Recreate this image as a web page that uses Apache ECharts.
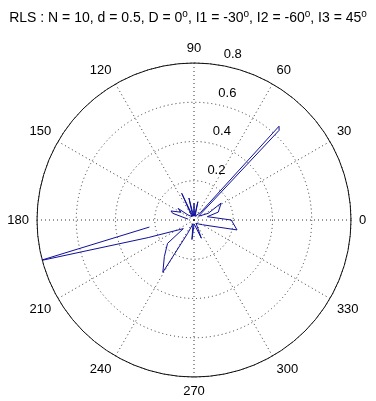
<!DOCTYPE html>
<html>
<head>
<meta charset="utf-8">
<script src="https://cdn.jsdelivr.net/npm/echarts@6/dist/echarts.min.js"></script>
<style>html,body{margin:0;padding:0;background:#fff;}#c{width:376px;height:401px;}</style>
</head>
<body>
<div id="c"></div>
<script>
// Pattern polyline: angles (deg) and radii, in drawing order ('-' = break)
var angles = [331, 347, 0, 14, 18, 32, 25, 40, 46.5, 47.8, 49, 74, 78, 83, 90, 96, 103, 108, 114.7, 121, 140, 144, 149, 158.6, 162.5, 172, '-', 189, 194.8, 201, 219, 221.5, 231, 239.2, 244.7, 255, 264, 272, 292, 302, 318, 331];
var radii  = [0.05, 0.225, 0.19, 0.07, 0.13, 0.163, 0.08, 0.03, 0.63, 0.645, 0.05, 0.02, 0.095, 0.02, 0.085, 0.02, 0.115, 0.02, 0.15, 0.02, 0.04, 0.10, 0.077, 0.126, 0.114, 0.03, '-', 0.23, 0.82, 0.25, 0.07, 0.18, 0.24, 0.31, 0.075, 0.02, 0.10, 0.02, 0.10, 0.02, 0.03, 0.05];
var angleTicks = [0, 30, 60, 90, 120, 150, 180, 210, 240, 270, 300, 330];
var radiusTicks = [0.2, 0.4, 0.6, 0.8];
var titleText = 'RLS : N = 10, d = 0.5, D = 0{s|o}, I1 = -30{s|o}, I2 = -60{s|o}, I3 = 45{s|o}';

var data = angles.map(function (a, i) { return a === '-' ? ['-', '-'] : [radii[i], a]; });
var FONT = 'Liberation Sans, Arial, sans-serif';
var CX = 194, CY = 220, R = 157;

var chart = echarts.init(document.getElementById('c'));
chart.setOption({
  animation: false,
  backgroundColor: '#fff',
  title: {
    text: titleText,
    left: 'center', top: 4,
    textStyle: {
      fontFamily: FONT, fontSize: 14, fontWeight: 'normal', color: '#000',
      rich: { s: { fontFamily: FONT, fontSize: 10, verticalAlign: 'top', padding: [0, 0, 8, 0] } }
    }
  },
  polar: [
    { center: [CX, CY], radius: R },
    { center: [CX, CY], radius: R }
  ],
  angleAxis: [
    {
      polarIndex: 0, type: 'value', min: 0, max: 360, interval: 30,
      startAngle: 0, clockwise: false,
      axisLine: { show: true, lineStyle: { color: '#111', width: 1 } },
      axisTick: { show: false },
      axisLabel: {
        show: true, margin: 8, color: '#000', fontFamily: FONT, fontSize: 13,
        formatter: function (v) { return angleTicks.indexOf(v) >= 0 ? String(v) : ''; }
      },
      splitLine: { show: true, lineStyle: { color: '#333', width: 1, type: [1, 3] } }
    },
    {
      polarIndex: 1, type: 'value', min: 0, max: 360,
      startAngle: 82, clockwise: false, show: false
    }
  ],
  radiusAxis: [
    {
      polarIndex: 0, type: 'value', min: 0, max: 0.8, interval: 0.2,
      axisLine: { show: false }, axisTick: { show: false }, axisLabel: { show: false },
      splitLine: { show: true, lineStyle: { color: '#333', width: 1, type: [1, 3] } }
    },
    {
      polarIndex: 1, type: 'value', min: 0, max: 0.8, interval: 0.2,
      axisLine: { show: false }, axisTick: { show: false }, splitLine: { show: false },
      axisLabel: {
        show: true, color: '#000', fontFamily: FONT, fontSize: 13, margin: -8,
        align: 'left', verticalAlign: 'bottom', padding: [0, 0, 5, 0],
        formatter: function (v) { return radiusTicks.some(function (t) { return Math.abs(t - v) < 1e-9; }) ? v.toFixed(1) : ''; }
      }
    }
  ],
  series: [{
    type: 'line', coordinateSystem: 'polar', polarIndex: 0,
    data: data, showSymbol: false, symbol: 'none', connectNulls: false,
    lineStyle: { color: '#10109a', width: 1 },
    silent: true
  }]
});
</script>
</body>
</html>
